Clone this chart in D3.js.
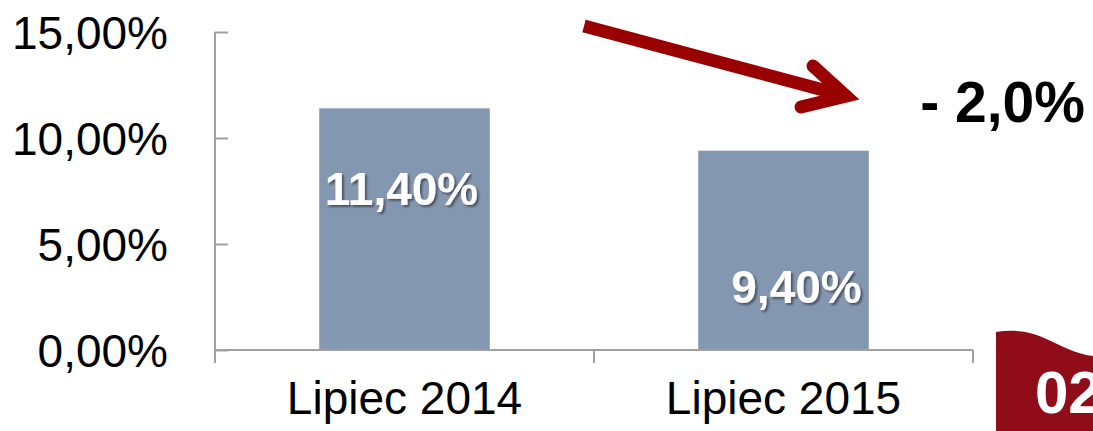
<!DOCTYPE html>
<html>
<head>
<meta charset="utf-8">
<script src="https://cdn.jsdelivr.net/npm/d3@7"></script>
<style>
  html, body { margin: 0; padding: 0; background: #fff; }
  svg { display: block; }
  text { font-family: "Liberation Sans", Arial, sans-serif; }
</style>
</head>
<body>
<svg width="1093" height="431"></svg>
<script>
var categories = ['Lipiec 2014', 'Lipiec 2015'];
var rates = [11.4, 9.4];
var yTicks = [0, 5, 10, 15];
var changeLabel = '- 2,0%';
var badgeLabel = '02';

var svg = d3.select('svg');

// polish number format: 11,40%
var pl = d3.formatLocale({ decimal: ',', thousands: ' ', grouping: [3], currency: ['', ' zł'] });
var fmt = function(v) { return pl.format('.2f')(v) + '%'; };

var y = d3.scaleLinear()
  .domain([0, 15])
  .range([350, 32]);

var x = d3.scaleBand()
  .domain(categories)
  .range([215, 973])
  .padding(0);

var barW = x.bandwidth() * 0.45;

// drop shadow for the bar labels
var defs = svg.append('defs');
defs.append('filter')
  .attr('id', 'shadow')
  .attr('x', '-20%').attr('y', '-20%')
  .attr('width', '140%').attr('height', '140%')
  .append('feDropShadow')
  .attr('dx', 2).attr('dy', 2)
  .attr('stdDeviation', 1.2)
  .attr('flood-color', '#000')
  .attr('flood-opacity', 0.45);

// y axis, ticks pointing into the plot
var yAxis = d3.axisLeft(y)
  .tickValues(yTicks)
  .tickSize(-13)
  .tickPadding(47)
  .tickFormat(fmt);

var gy = svg.append('g')
  .attr('transform', 'translate(215,0)')
  .call(yAxis);

gy.select('.domain').remove();
gy.selectAll('.tick line')
  .attr('stroke', '#a0a0a0')
  .attr('stroke-width', 2);
gy.selectAll('.tick text')
  .attr('fill', '#000')
  .style('font-size', '46px')
  .attr('dy', '0.35em');

svg.append('line')
  .attr('x1', 215).attr('x2', 215)
  .attr('y1', y(15)).attr('y2', y(0) + 13)
  .attr('stroke', '#a0a0a0')
  .attr('stroke-width', 2);

// bars
svg.selectAll('rect.bar')
  .data(rates)
  .enter().append('rect')
  .attr('class', 'bar')
  .attr('x', function(d, i) { return x(categories[i]) + (x.bandwidth() - barW) / 2; })
  .attr('y', function(d) { return y(d); })
  .attr('width', barW)
  .attr('height', function(d) { return y(0) - y(d); })
  .attr('fill', '#8497b0');

// x axis: baseline and ticks between categories
svg.append('line')
  .attr('x1', 215).attr('x2', 973)
  .attr('y1', y(0)).attr('y2', y(0))
  .attr('stroke', '#a0a0a0')
  .attr('stroke-width', 2);

var bounds = categories.map(function(c) { return x(c); }).concat([x.range()[1]]);
svg.selectAll('line.xtick')
  .data(bounds)
  .enter().append('line')
  .attr('class', 'xtick')
  .attr('x1', function(d) { return d; })
  .attr('x2', function(d) { return d; })
  .attr('y1', y(0))
  .attr('y2', y(0) + 13)
  .attr('stroke', '#a0a0a0')
  .attr('stroke-width', 2);

svg.selectAll('text.xlab')
  .data(categories)
  .enter().append('text')
  .attr('class', 'xlab')
  .attr('x', function(d) { return x(d) + x.bandwidth() / 2; })
  .attr('y', 414)
  .attr('text-anchor', 'middle')
  .style('font-size', '46px')
  .attr('fill', '#000')
  .text(function(d) { return d; });

// value labels inside bars (placed as in the original slide)
var labelShift = [[-3, 97], [13, 152]];
svg.selectAll('text.val')
  .data(rates)
  .enter().append('text')
  .attr('class', 'val')
  .attr('x', function(d, i) { return x(categories[i]) + x.bandwidth() / 2 + labelShift[i][0]; })
  .attr('y', function(d, i) { return y(d) + labelShift[i][1]; })
  .attr('text-anchor', 'middle')
  .style('font-size', '46px')
  .style('font-weight', 'bold')
  .attr('fill', '#fff')
  .attr('filter', 'url(#shadow)')
  .text(function(d) { return fmt(d); });

// arrow
var arrow = svg.append('g')
  .attr('stroke', '#990000')
  .attr('fill', 'none')
  .attr('stroke-width', 13);
arrow.append('line')
  .attr('x1', 584).attr('y1', 26)
  .attr('x2', 842).attr('y2', 95);
arrow.append('path')
  .attr('d', 'M813,66 L846,96 L801,107')
  .attr('stroke-linecap', 'round')
  .attr('stroke-linejoin', 'miter');

svg.append('text')
  .attr('x', 1085)
  .attr('y', 122)
  .attr('text-anchor', 'end')
  .style('font-size', '57px')
  .style('font-weight', 'bold')
  .attr('fill', '#000')
  .text(changeLabel);

// red badge in the corner (cut by the slide edge, as in the original)
svg.append('path')
  .attr('d', 'M996,332 C1010,330 1025,330 1042,337 C1060,345 1075,354 1093,356 L1093,431 L996,431 Z')
  .attr('fill', '#900c18');

svg.append('text')
  .attr('x', 1035)
  .attr('y', 413)
  .style('font-size', '60px')
  .style('font-weight', 'bold')
  .attr('fill', '#fff')
  .text(badgeLabel);
</script>
</body>
</html>
